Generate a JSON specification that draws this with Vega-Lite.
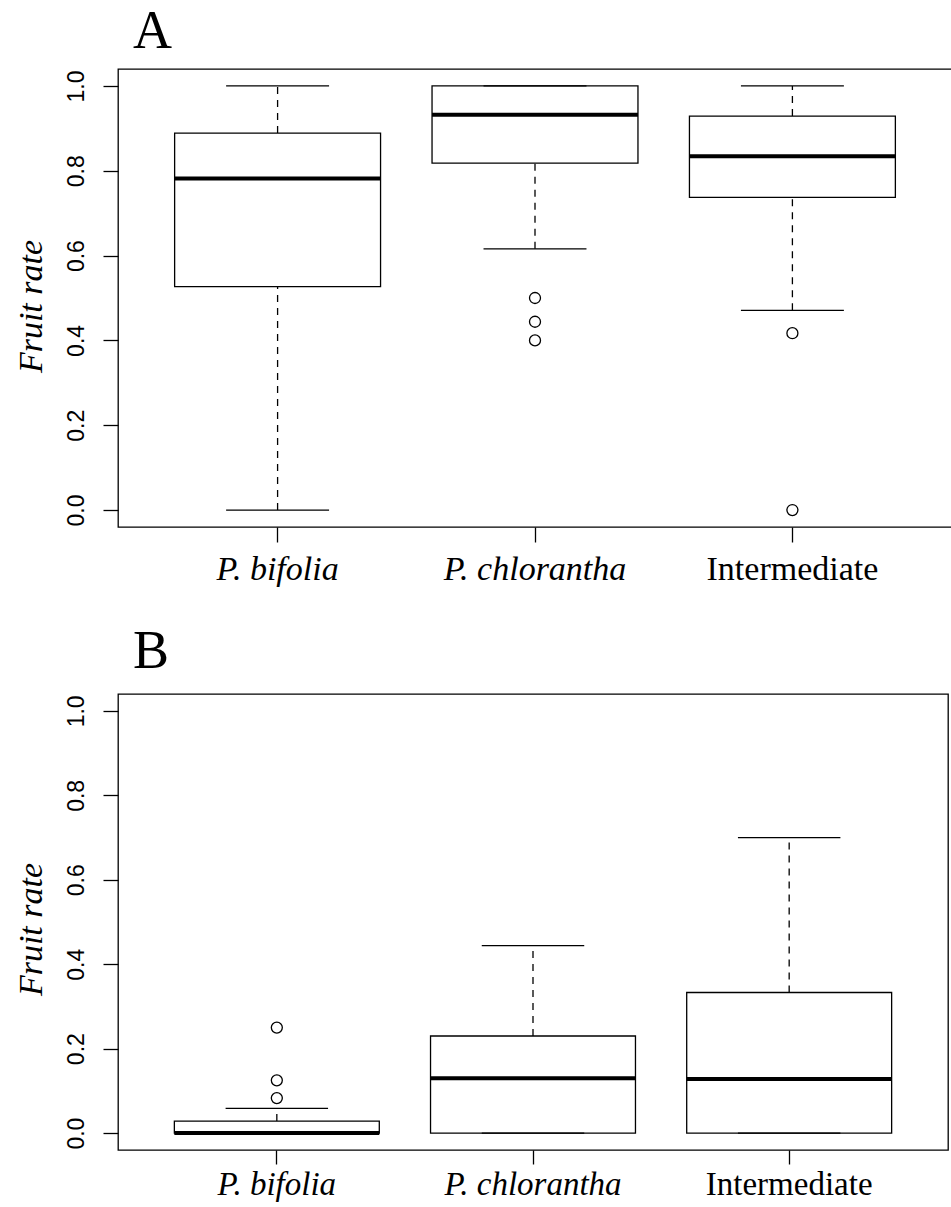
{
  "$schema": "https://vega.github.io/schema/vega-lite/v6.json",
  "autosize": {"type": "pad"},
  "padding": {"left": 13, "top": 4, "right": 0, "bottom": 0},
  "background": "white",
  "config": {
    "view": {"stroke": "black", "strokeWidth": 1.3, "fill": "white"},
    "axis": {"grid": false, "domain": false, "tickColor": "black", "tickWidth": 1.3, "labelColor": "black", "titleColor": "black", "labelOverlap": false, "labelBound": false, "labelLimit": 0}
  },
  "datasets": {
    "boxA": [
      {"group": "P. bifolia", "lo": 0.0, "q1": 0.527, "median": 0.782, "q3": 0.889, "hi": 1.0},
      {"group": "P. chlorantha", "lo": 0.616, "q1": 0.818, "median": 0.932, "q3": 1.0, "hi": 1.0},
      {"group": "Intermediate", "lo": 0.471, "q1": 0.7375, "median": 0.834, "q3": 0.929, "hi": 1.0}
    ],
    "outA": [
      {"group": "P. chlorantha", "value": 0.5},
      {"group": "P. chlorantha", "value": 0.444},
      {"group": "P. chlorantha", "value": 0.4},
      {"group": "Intermediate", "value": 0.417},
      {"group": "Intermediate", "value": 0.0}
    ],
    "boxB": [
      {"group": "P. bifolia", "lo": 0.0, "q1": 0.0, "median": 0.0, "q3": 0.0284, "hi": 0.0585},
      {"group": "P. chlorantha", "lo": 0.0, "q1": 0.0, "median": 0.130, "q3": 0.230, "hi": 0.444},
      {"group": "Intermediate", "lo": 0.0, "q1": 0.0, "median": 0.128, "q3": 0.333, "hi": 0.700}
    ],
    "outB": [
      {"group": "P. bifolia", "value": 0.083},
      {"group": "P. bifolia", "value": 0.125},
      {"group": "P. bifolia", "value": 0.25}
    ]
  },
  "bounds": "flush",
  "spacing": 167,
  "resolve": {"scale": {"x": "independent", "y": "independent"}},
  "vconcat": [
    {
      "width": 834,
      "height": 458,
      "title": {"text": "A", "anchor": "start", "frame": "group", "font": "Liberation Serif", "fontSize": 54, "fontWeight": "normal", "color": "black", "baseline": "alphabetic", "offset": -33, "dx": 15},
      "encoding": {
        "x": {"field": "group", "type": "nominal",
          "scale": {"domain": ["P. bifolia", "P. chlorantha", "Intermediate"], "paddingInner": 0.2, "paddingOuter": 0.22},
          "axis": {"title": null, "labelAngle": 0, "tickSize": 15, "labelPadding": 37, "labelBaseline": "alphabetic", "labelFont": "Liberation Serif", "labelFontSize": 34, "labelLimit": 0,
            "labelFontStyle": {"condition": {"test": "datum.label == 'Intermediate'", "value": "normal"}, "value": "italic"}}}
      },
      "layer": [
        {
          "data": {"name": "boxA"},
          "mark": {"type": "rule", "stroke": "black", "strokeWidth": 1.3, "strokeDash": [7, 6]},
          "encoding": {
            "y": {"field": "lo", "type": "quantitative",
              "scale": {"domain": [-0.04, 1.04], "nice": false, "zero": false},
              "axis": {"title": "Fruit rate", "values": [0, 0.2, 0.4, 0.6, 0.8, 1.0], "format": ".1f", "tickSize": 15, "labelPadding": 20, "labelAngle": 270, "labelAlign": "center", "labelBaseline": "alphabetic", "labelFont": "Liberation Sans", "labelFontSize": 23,
                "titleFont": "Liberation Serif", "titleFontStyle": "italic", "titleFontWeight": "normal", "titleFontSize": 34, "titleAngle": 270, "titleAlign": "center", "titleBaseline": "alphabetic", "titleX": -77, "titleY": 237}},
            "y2": {"field": "q1"}
          }
        },
        {
          "data": {"name": "boxA"},
          "mark": {"type": "rule", "stroke": "black", "strokeWidth": 1.3, "strokeDash": [7, 6]},
          "encoding": {"y": {"field": "q3", "type": "quantitative"}, "y2": {"field": "hi"}}
        },
        {
          "data": {"name": "boxA"},
          "mark": {"type": "bar", "fill": "white", "stroke": "black", "strokeWidth": 1.3, "width": {"band": 1}},
          "encoding": {"y": {"field": "q1", "type": "quantitative"}, "y2": {"field": "q3"}}
        },
        {
          "data": {"name": "boxA"},
          "mark": {"type": "bar", "fill": "black", "stroke": "black", "strokeWidth": 1.3, "strokeJoin": "bevel", "width": {"band": 0.5}},
          "encoding": {"y": {"field": "hi", "type": "quantitative"}, "y2": {"field": "hi"}}
        },
        {
          "data": {"name": "boxA"},
          "mark": {"type": "bar", "fill": "black", "stroke": "black", "strokeWidth": 1.3, "strokeJoin": "bevel", "width": {"band": 0.5}},
          "encoding": {"y": {"field": "lo", "type": "quantitative"}, "y2": {"field": "lo"}}
        },
        {
          "data": {"name": "boxA"},
          "mark": {"type": "bar", "fill": "black", "stroke": "black", "strokeWidth": 4, "strokeJoin": "bevel", "width": {"band": 1}},
          "encoding": {"y": {"field": "median", "type": "quantitative"}, "y2": {"field": "median"}}
        },
        {
          "data": {"name": "outA"},
          "mark": {"type": "point", "shape": "circle", "filled": false, "stroke": "black", "strokeWidth": 1.3, "size": 121, "opacity": 1},
          "encoding": {"y": {"field": "value", "type": "quantitative"}}
        }
      ]
    },
    {
      "width": 830,
      "height": 456,
      "title": {"text": "B", "anchor": "start", "frame": "group", "font": "Liberation Serif", "fontSize": 54, "fontWeight": "normal", "color": "black", "baseline": "alphabetic", "offset": -28, "dx": 15},
      "encoding": {
        "x": {"field": "group", "type": "nominal",
          "scale": {"domain": ["P. bifolia", "P. chlorantha", "Intermediate"], "paddingInner": 0.2, "paddingOuter": 0.22},
          "axis": {"title": null, "labelAngle": 0, "tickSize": 14, "labelPadding": 30, "labelBaseline": "alphabetic", "labelFont": "Liberation Serif", "labelFontSize": 33, "labelLimit": 0,
            "labelFontStyle": {"condition": {"test": "datum.label == 'Intermediate'", "value": "normal"}, "value": "italic"}}}
      },
      "layer": [
        {
          "data": {"name": "boxB"},
          "mark": {"type": "rule", "stroke": "black", "strokeWidth": 1.3, "strokeDash": [7, 6]},
          "encoding": {
            "y": {"field": "lo", "type": "quantitative",
              "scale": {"domain": [-0.04, 1.04], "nice": false, "zero": false},
              "axis": {"title": "Fruit rate", "values": [0, 0.2, 0.4, 0.6, 0.8, 1.0], "format": ".1f", "tickSize": 15, "labelPadding": 20, "labelAngle": 270, "labelAlign": "center", "labelBaseline": "alphabetic", "labelFont": "Liberation Sans", "labelFontSize": 23,
                "titleFont": "Liberation Serif", "titleFontStyle": "italic", "titleFontWeight": "normal", "titleFontSize": 34, "titleAngle": 270, "titleAlign": "center", "titleBaseline": "alphabetic", "titleX": -77, "titleY": 235}},
            "y2": {"field": "q1"}
          }
        },
        {
          "data": {"name": "boxB"},
          "mark": {"type": "rule", "stroke": "black", "strokeWidth": 1.3, "strokeDash": [7, 6]},
          "encoding": {"y": {"field": "q3", "type": "quantitative"}, "y2": {"field": "hi"}}
        },
        {
          "data": {"name": "boxB"},
          "mark": {"type": "bar", "fill": "white", "stroke": "black", "strokeWidth": 1.3, "width": {"band": 1}},
          "encoding": {"y": {"field": "q1", "type": "quantitative"}, "y2": {"field": "q3"}}
        },
        {
          "data": {"name": "boxB"},
          "mark": {"type": "bar", "fill": "black", "stroke": "black", "strokeWidth": 1.3, "strokeJoin": "bevel", "width": {"band": 0.5}},
          "encoding": {"y": {"field": "hi", "type": "quantitative"}, "y2": {"field": "hi"}}
        },
        {
          "data": {"name": "boxB"},
          "mark": {"type": "bar", "fill": "black", "stroke": "black", "strokeWidth": 1.3, "strokeJoin": "bevel", "width": {"band": 0.5}},
          "encoding": {"y": {"field": "lo", "type": "quantitative"}, "y2": {"field": "lo"}}
        },
        {
          "data": {"name": "boxB"},
          "mark": {"type": "bar", "fill": "black", "stroke": "black", "strokeWidth": 4, "strokeJoin": "bevel", "width": {"band": 1}},
          "encoding": {"y": {"field": "median", "type": "quantitative"}, "y2": {"field": "median"}}
        },
        {
          "data": {"name": "outB"},
          "mark": {"type": "point", "shape": "circle", "filled": false, "stroke": "black", "strokeWidth": 1.3, "size": 121, "opacity": 1},
          "encoding": {"y": {"field": "value", "type": "quantitative"}}
        }
      ]
    }
  ]
}
